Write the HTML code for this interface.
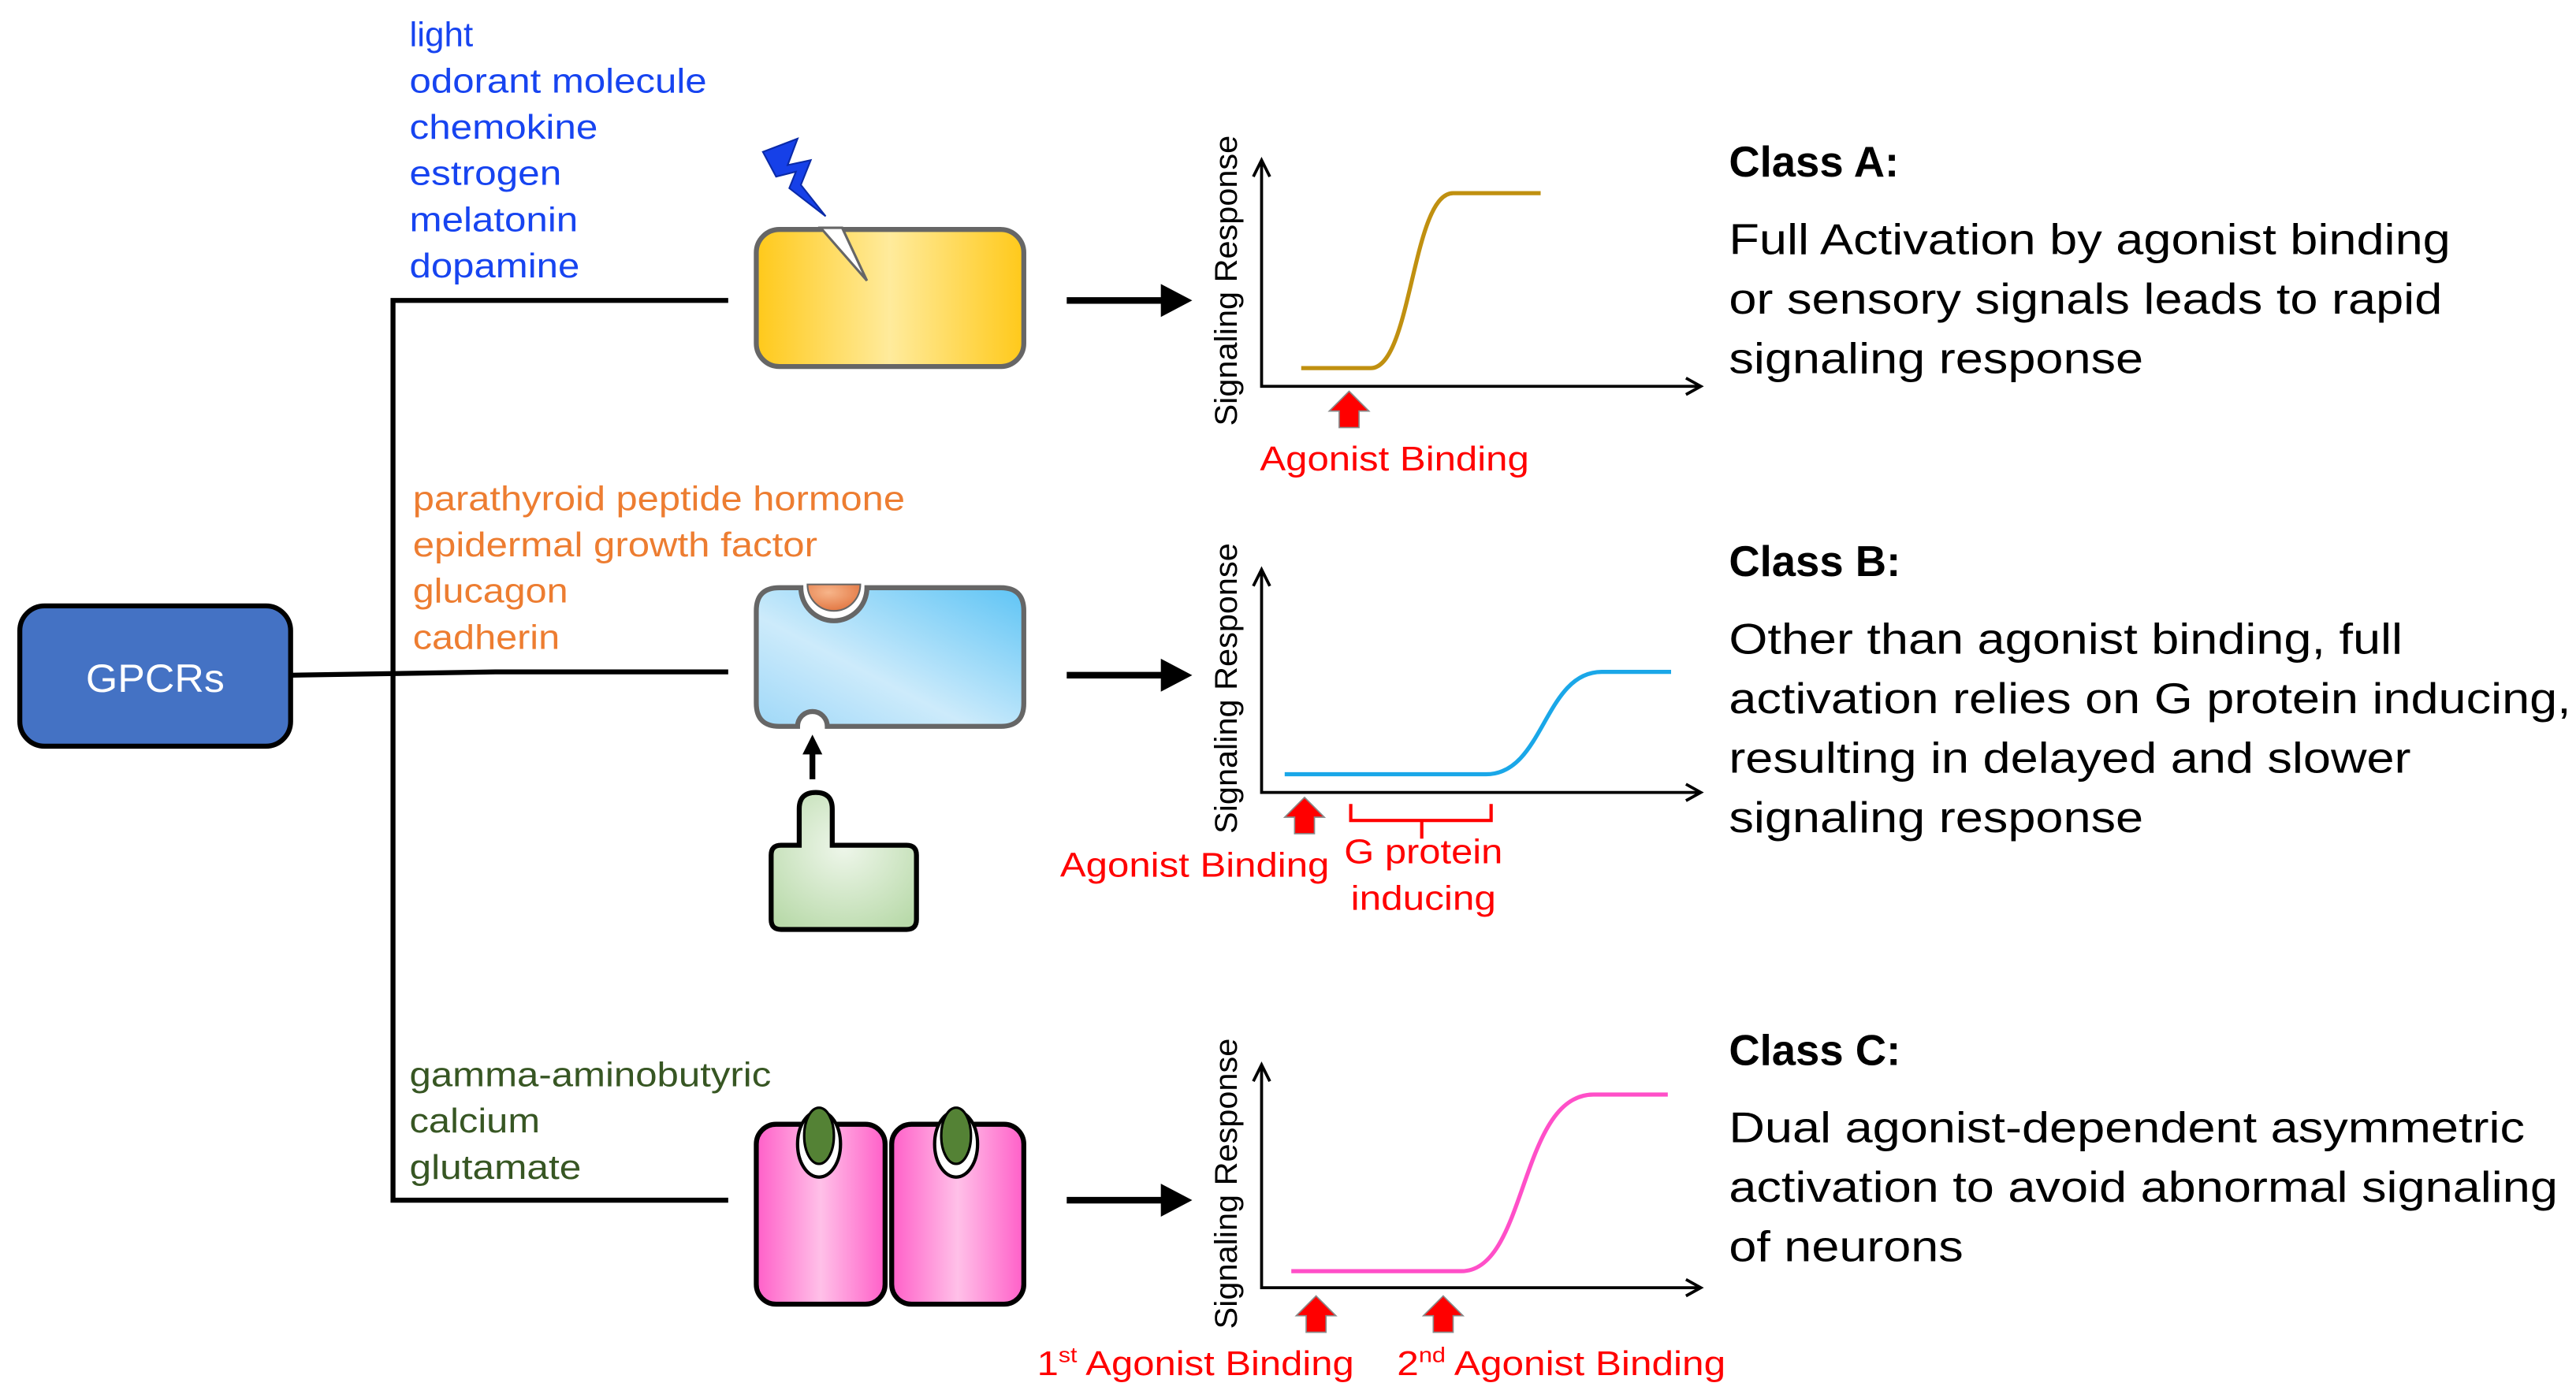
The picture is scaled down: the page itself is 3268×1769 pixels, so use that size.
<!DOCTYPE html>
<html><head><meta charset="utf-8"><style>
html,body{margin:0;padding:0;background:#fff}
svg{display:block}
text{font-family:"Liberation Sans",Arial,sans-serif}
</style></head><body>
<svg width="3268" height="1769" viewBox="0 0 1560 844.4" preserveAspectRatio="none" xmlns="http://www.w3.org/2000/svg">
<defs>
<linearGradient id="gy" x1="0" x2="1" y1="0" y2="0"><stop offset="0" stop-color="#FFC91A"/><stop offset="0.5" stop-color="#FFEB9C"/><stop offset="1" stop-color="#FFC91A"/></linearGradient>
<linearGradient id="gb" x1="1" x2="0" y1="0" y2="1"><stop offset="0" stop-color="#5EC4F5"/><stop offset="0.6" stop-color="#CDEBFB"/><stop offset="1" stop-color="#9FD8F8"/></linearGradient>
<radialGradient id="gg" cx="0.5" cy="0.4" r="0.7"><stop offset="0" stop-color="#EEF6EA"/><stop offset="1" stop-color="#B9DAAA"/></radialGradient>
<linearGradient id="gp" x1="0" x2="1"><stop offset="0" stop-color="#FF5FC8"/><stop offset="0.5" stop-color="#FFC0E8"/><stop offset="1" stop-color="#FF5FC8"/></linearGradient>
<radialGradient id="go" cx="0.4" cy="0.3" r="0.8"><stop offset="0" stop-color="#F7B58A"/><stop offset="1" stop-color="#E0703A"/></radialGradient>
</defs>

<rect x="12" y="367" width="164" height="85" rx="15" fill="#4472C4" stroke="#000" stroke-width="3"/>
<text x="94" y="419" font-size="24" fill="#fff" text-anchor="middle" textLength="84" lengthAdjust="spacingAndGlyphs">GPCRs</text>

<g stroke="#000" stroke-width="3" fill="none">
<path d="M441 182 H238 V727 H441"/>
<path d="M176 409 L300 407 H441"/>
</g>

<g font-size="21" fill="#1744F0">
<text x="248" y="28">light</text>
<text x="248" y="56" textLength="180" lengthAdjust="spacingAndGlyphs">odorant molecule</text>
<text x="248" y="84" textLength="114" lengthAdjust="spacingAndGlyphs">chemokine</text>
<text x="248" y="112" textLength="92" lengthAdjust="spacingAndGlyphs">estrogen</text>
<text x="248" y="140" textLength="102" lengthAdjust="spacingAndGlyphs">melatonin</text>
<text x="248" y="168" textLength="103" lengthAdjust="spacingAndGlyphs">dopamine</text>
</g>
<g font-size="21" fill="#ED7D31">
<text x="250" y="309" textLength="298" lengthAdjust="spacingAndGlyphs">parathyroid peptide hormone</text>
<text x="250" y="337" textLength="245" lengthAdjust="spacingAndGlyphs">epidermal growth factor</text>
<text x="250" y="365" textLength="94" lengthAdjust="spacingAndGlyphs">glucagon</text>
<text x="250" y="393" textLength="89" lengthAdjust="spacingAndGlyphs">cadherin</text>
</g>
<g font-size="21" fill="#375623">
<text x="248" y="658" textLength="219" lengthAdjust="spacingAndGlyphs">gamma-aminobutyric</text>
<text x="248" y="686" textLength="79" lengthAdjust="spacingAndGlyphs">calcium</text>
<text x="248" y="714" textLength="104" lengthAdjust="spacingAndGlyphs">glutamate</text>
</g>

<rect x="458" y="139" width="162" height="83" rx="14" fill="url(#gy)" stroke="#666" stroke-width="3"/>
<polygon points="497,138 510,138 525,170" fill="#fff" stroke="#666" stroke-width="1.5"/>
<polygon points="462,92 483,84 477,100 491,97 485,112 500,131 478,114 482,104 470,107" fill="#1640E8" stroke="#0a2aa8" stroke-width="1"/>

<path d="M472 356 H485 A20 20 0 0 0 525 356 H606 Q620 356 620 370 V426 Q620 440 606 440 H501 A9 9 0 0 0 483 440 H472 Q458 440 458 426 V370 Q458 356 472 356 Z" fill="url(#gb)" stroke="#666" stroke-width="3"/>
<path d="M489 354 A16 16 0 0 0 521 354 Z" fill="url(#go)" stroke="#666" stroke-width="1"/>
<path d="M492 472 V455" stroke="#000" stroke-width="3.5"/>
<polygon points="486,457 498,457 492,445" fill="#000"/>
<path d="M484 512 V490 Q484 480 494 480 Q504 480 504 490 V512 H549 Q555 512 555 518 V557 Q555 563 549 563 H473 Q467 563 467 557 V518 Q467 512 473 512 Z" fill="url(#gg)" stroke="#000" stroke-width="3"/>

<rect x="458" y="681" width="78" height="109" rx="12" fill="url(#gp)" stroke="#000" stroke-width="3"/>
<rect x="540" y="681" width="80" height="109" rx="12" fill="url(#gp)" stroke="#000" stroke-width="3"/>
<ellipse cx="496" cy="693" rx="13" ry="20" fill="#fff" stroke="#000" stroke-width="2"/>
<ellipse cx="496" cy="688" rx="9" ry="17" fill="#548235" stroke="#000" stroke-width="1.5"/>
<ellipse cx="579" cy="693" rx="13" ry="20" fill="#fff" stroke="#000" stroke-width="2"/>
<ellipse cx="579" cy="688" rx="9" ry="17" fill="#548235" stroke="#000" stroke-width="1.5"/>

<g fill="#000">
<path d="M646 182 H705" stroke="#000" stroke-width="4"/><polygon points="703,172 722,182 703,192"/>
<path d="M646 409 H705" stroke="#000" stroke-width="4"/><polygon points="703,399 722,409 703,419"/>
<path d="M646 727 H705" stroke="#000" stroke-width="4"/><polygon points="703,717 722,727 703,737"/>
</g>

<g stroke="#000" stroke-width="1.8" fill="none">
<path d="M764 97 V234 H1030"/><path d="M759 107 L764 97 L769 107"/><path d="M1021 229 L1030 234 L1021 239"/>
<path d="M764 345 V480 H1030"/><path d="M759 355 L764 345 L769 355"/><path d="M1021 475 L1030 480 L1021 485"/>
<path d="M764 645 V780 H1030"/><path d="M759 655 L764 645 L769 655"/><path d="M1021 775 L1030 780 L1021 785"/>
</g>
<g font-size="19" fill="#000">
<text transform="translate(749,170) rotate(-90)" text-anchor="middle" textLength="176" lengthAdjust="spacingAndGlyphs">Signaling Response</text>
<text transform="translate(749,417) rotate(-90)" text-anchor="middle" textLength="176" lengthAdjust="spacingAndGlyphs">Signaling Response</text>
<text transform="translate(749,717) rotate(-90)" text-anchor="middle" textLength="176" lengthAdjust="spacingAndGlyphs">Signaling Response</text>
</g>
<path d="M788 223 H830 C855 223 855 117 880 117 H933" stroke="#C09010" stroke-width="2.5" fill="none"/>
<path d="M778 469 H900 C935 469 935 407 970 407 H1012" stroke="#1AA7E8" stroke-width="2.5" fill="none"/>
<path d="M782 770 H885 C925 770 920 663 965 663 H1010" stroke="#FF4FC8" stroke-width="2.5" fill="none"/>

<g fill="#FF0000" stroke="#888" stroke-width="0.8">
<polygon points="817,237 829,249 823,249 823,259 811,259 811,249 805,249"/>
<polygon points="790,483 802,495 796,495 796,505 784,505 784,495 778,495"/>
<polygon points="797,785 809,797 803,797 803,807 791,807 791,797 785,797"/>
<polygon points="874,785 886,797 880,797 880,807 868,807 868,797 862,797"/>
</g>
<path d="M818 487 V497 H903 V487 M861 497 V508" stroke="#FF0000" stroke-width="2" fill="none"/>
<g font-size="21" fill="#FF0000">
<text x="763" y="285" textLength="163" lengthAdjust="spacingAndGlyphs">Agonist Binding</text>
<text x="642" y="531" textLength="163" lengthAdjust="spacingAndGlyphs">Agonist Binding</text>
<text x="862" y="523" text-anchor="middle" textLength="96" lengthAdjust="spacingAndGlyphs">G protein</text>
<text x="862" y="551" text-anchor="middle" textLength="88" lengthAdjust="spacingAndGlyphs">inducing</text>
<text x="628" y="833" textLength="192" lengthAdjust="spacingAndGlyphs">1<tspan font-size="13" dy="-8">st</tspan><tspan dy="8"> Agonist Binding</tspan></text>
<text x="846" y="833" textLength="199" lengthAdjust="spacingAndGlyphs">2<tspan font-size="13" dy="-8">nd</tspan><tspan dy="8"> Agonist Binding</tspan></text>
</g>

<g font-size="26" fill="#000">
<text x="1047" y="107" font-weight="bold">Class A:</text>
<text x="1047" y="154" textLength="437" lengthAdjust="spacingAndGlyphs">Full Activation by agonist binding</text>
<text x="1047" y="190" textLength="432" lengthAdjust="spacingAndGlyphs">or sensory signals leads to rapid</text>
<text x="1047" y="226" textLength="251" lengthAdjust="spacingAndGlyphs">signaling response</text>
<text x="1047" y="349" font-weight="bold">Class B:</text>
<text x="1047" y="396" textLength="408" lengthAdjust="spacingAndGlyphs">Other than agonist binding, full</text>
<text x="1047" y="432" textLength="510" lengthAdjust="spacingAndGlyphs">activation relies on G protein inducing,</text>
<text x="1047" y="468" textLength="413" lengthAdjust="spacingAndGlyphs">resulting in delayed and slower</text>
<text x="1047" y="504" textLength="251" lengthAdjust="spacingAndGlyphs">signaling response</text>
<text x="1047" y="645" font-weight="bold">Class C:</text>
<text x="1047" y="692" textLength="482" lengthAdjust="spacingAndGlyphs">Dual agonist-dependent asymmetric</text>
<text x="1047" y="728" textLength="502" lengthAdjust="spacingAndGlyphs">activation to avoid abnormal signaling</text>
<text x="1047" y="764" textLength="142" lengthAdjust="spacingAndGlyphs">of neurons</text>
</g>
</svg>
</body></html>
